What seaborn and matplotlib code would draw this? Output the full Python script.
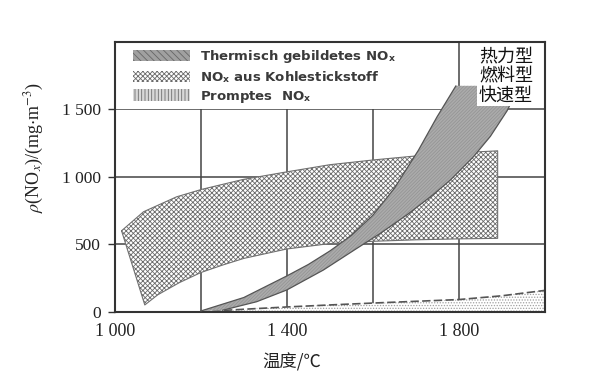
import matplotlib
matplotlib.use('Agg')
import matplotlib.pyplot as plt
from matplotlib.patches import Patch, Rectangle
import seaborn as sns

# Thermisch gebildetes NOx (upper-left edge and lower-right edge of the band)
thermal_hi_x = [1200, 1300, 1400, 1450, 1500, 1550, 1600, 1650, 1706, 1749, 1793]
thermal_hi_y = [5, 105, 265, 350, 450, 565, 715, 915, 1198, 1444, 1675]
thermal_lo_x = [1250, 1330, 1400, 1485, 1563, 1617, 1680, 1741, 1780, 1834, 1873, 1912, 1940]
thermal_lo_y = [10, 74, 161, 309, 470, 580, 720, 870, 976, 1150, 1300, 1490, 1675]

# NOx aus Kohlestickstoff
fuel_hi_x = [1016, 1067, 1144, 1202, 1299, 1400, 1500, 1600, 1700, 1800, 1890]
fuel_hi_y = [600, 741, 852, 907, 981, 1037, 1090, 1125, 1155, 1178, 1193]
fuel_lo_x = [1070, 1100, 1150, 1200, 1250, 1300, 1400, 1500, 1600, 1700, 1800, 1890]
fuel_lo_y = [50, 125, 215, 290, 345, 395, 465, 505, 522, 533, 540, 544]

# Promptes NOx
prompt_x = [1200, 1300, 1400, 1500, 1600, 1700, 1800, 1900, 2000]
prompt_y = [0, 18, 35, 50, 64, 77, 90, 118, 158]

legend_labels = [r'Thermisch gebildetes NO$_\mathregular{x}$',
                 r'NO$_\mathregular{x}$ aus Kohlestickstoff',
                 r'Promptes  NO$_\mathregular{x}$']
cn_labels = ['热力型', '燃料型', '快速型']
x_ticks = [1000, 1200, 1400, 1600, 1800]
x_ticklabels = ['1 000', '', '1 400', '', '1 800']
y_ticks = [0, 500, 1000, 1500]
y_ticklabels = ['0', '500', '1 000', '1 500']

sns.set_theme(style='white')
plt.rcParams['font.family'] = ['Liberation Serif', 'DejaVu Serif']
plt.rcParams['mathtext.fontset'] = 'stix'
plt.rcParams['hatch.linewidth'] = 0.6

fig = plt.figure(figsize=(6.01, 3.74), dpi=100)
ax = fig.add_axes([0.1908, 0.1666, 0.716, 0.7211])

# prompt band
ax.fill_between(prompt_x, 0, prompt_y, facecolor='white', edgecolor='#a0a0a0',
                hatch='......', linewidth=0, zorder=1)
sns.lineplot(x=prompt_x, y=prompt_y, ax=ax, color='#555555', lw=1.2,
             linestyle=(0, (5, 2)), zorder=1.5)

# fuel band
fx = fuel_hi_x + fuel_lo_x[::-1]
fy = fuel_hi_y + fuel_lo_y[::-1]
ax.fill(fx, fy, facecolor='white', edgecolor='#6a6a6a', hatch='xxxxxxx', lw=0, zorder=2)
ax.plot(fx + fx[:1], fy + fy[:1], color='#707070', lw=0.8, zorder=2.1)

# thermal band
tx = thermal_hi_x + thermal_lo_x[::-1]
ty = thermal_hi_y + thermal_lo_y[::-1]
ax.fill(tx, ty, facecolor='#ababab', edgecolor='#959595', hatch='//////////', lw=0, zorder=3)
sns.lineplot(x=thermal_hi_x, y=thermal_hi_y, ax=ax, color='#555555', lw=0.9, zorder=3.1)
sns.lineplot(x=thermal_lo_x, y=thermal_lo_y, ax=ax, color='#555555', lw=0.9, zorder=3.1)

ax.set_xlim(1000, 2000)
ax.set_ylim(0, 2000)
ax.set_xticks(x_ticks)
ax.set_xticklabels(x_ticklabels)
ax.set_yticks(y_ticks)
ax.set_yticklabels(y_ticklabels)
ax.tick_params(axis='x', length=0, pad=8, labelsize=13, labelcolor='#222222')
ax.tick_params(axis='y', left=True, length=5, width=1, pad=5, labelsize=12.5,
               color='#333333', labelcolor='#222222')
ax.grid(True, color='#444444', lw=1.1)
ax.set_axisbelow(True)
for s in ax.spines.values():
    s.set_color('#333333')
    s.set_linewidth(1.5)

# white legend panel over the top grid cells
ax.add_patch(Rectangle((1000, 1506), 797, 494, facecolor='white', edgecolor='none', zorder=0.8))

handles = [Patch(facecolor='#a0a0a0', edgecolor='#666666', hatch='\\\\\\\\\\', lw=0),
           Patch(facecolor='white', edgecolor='#6a6a6a', hatch='xxxxxxx', lw=0),
           Patch(facecolor='#d8d8d8', edgecolor='#6e6e6e', hatch='|||||', lw=0)]
leg = ax.legend(handles, legend_labels, loc='upper left', bbox_to_anchor=(0.022, 1.012),
                frameon=False, handlelength=4.3, handleheight=0.95, handletextpad=0.75,
                labelspacing=0.3, borderpad=0.2,
                prop={'family': 'DejaVu Sans', 'weight': 'bold', 'size': 9.5})
for t in leg.get_texts():
    t.set_color('#3a3a3a')

ax.text(1972, 1958, '\n'.join(cn_labels), ha='right', va='top',
        family=['Noto Sans CJK SC', 'DejaVu Sans'], fontsize=13, linespacing=1.12,
        color='#111111', bbox=dict(facecolor='white', edgecolor='none', pad=1), zorder=6)

ax.set_xlabel('温度/℃', family=['Noto Sans CJK SC', 'DejaVu Sans'], fontsize=12.5, color='#222222')
ax.xaxis.set_label_coords(0.412, -0.155)
ax.set_ylabel(r'$\rho$(NO$_x$)/(mg$\cdot$m$^{-3}$)', fontsize=13, color='#222222')
ax.yaxis.set_label_coords(-0.16, 0.607)

fig.savefig('out.png', dpi=100)
